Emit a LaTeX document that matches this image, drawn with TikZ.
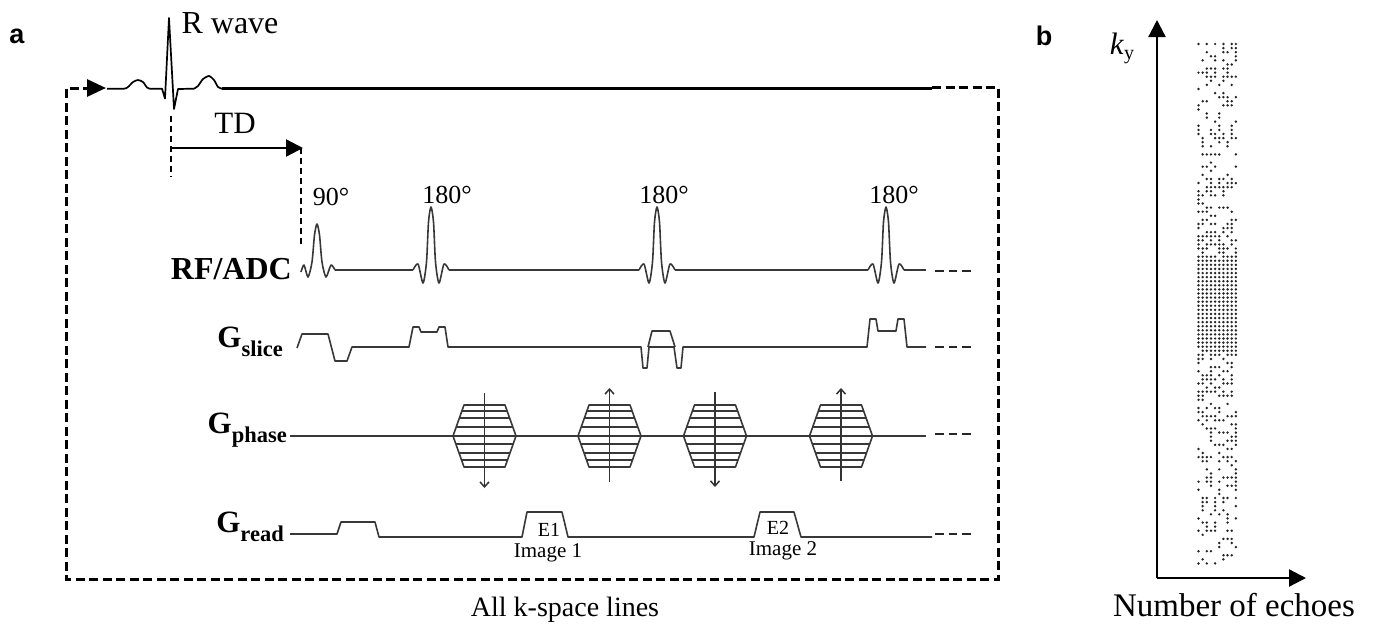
\documentclass[tikz,border=0pt]{standalone}
\usepackage{fontspec}
\setmainfont{Liberation Serif}
\newfontfamily\panelfont{Liberation Sans}
\usetikzlibrary{arrows.meta}

\newcommand{\fsz}[1]{\fontsize{#1}{#1}\selectfont}
\newcommand{\gradlabel}[1]{\fsz{31}\bfseries G\raisebox{-9pt}{\fsz{22.5}\bfseries #1}}

\tikzset{
  wave/.style={line width=1.6pt, color=black!78, line join=round},
  ecg/.style={line width=1.7pt, color=black, line join=round},
  loopline/.style={line width=3pt, dash pattern=on 9pt off 4.5pt},
  tailline/.style={line width=2pt, dash pattern=on 8.5pt off 5pt, color=black!85},
  delayline/.style={line width=2pt, dash pattern=on 6pt off 4pt},
  bigarrow/.style={line width=2.3pt, -{Triangle[length=17pt,width=17pt]}},
  smallarrow/.style={line width=1.5pt, color=black!80, -{Straight Barb[length=5pt,width=9pt]}},
  panel/.style={font=\panelfont\bfseries\fsz{27}},
  rowlabel/.style={anchor=base east, inner sep=0pt},
}

\begin{document}
\begin{tikzpicture}[x=1pt, y=-1pt]
    \useasboundingbox (0,0) rectangle (1373,627);

    % Panel letters
    \node[panel] (panel_a) at (17,36) {a};
    \node[panel] (panel_b) at (1044,36) {b};

    % ECG trace
    \draw[ecg] plot[smooth, tension=0.4] coordinates {(107,88.7) (124,88.7) (128,87) (133,82) (138,80) (143,82) (147,87.5) (150,88.7)};
    \draw[ecg] (150,88.7) -- (162,88.7) -- (165,98.5) -- (169,18) -- (174,109) -- (178,89) -- (194,88.7);
    \draw[ecg] plot[smooth, tension=0.4] coordinates {(194,88.7) (198,86) (203,79) (209,76) (214,80) (218,87) (222,88.7)};
    \draw[line width=2.8pt] (222,88.7) -- (932,88.7);
    \node[font=\fsz{32}] (r_wave) at (230,23) {R wave};

    % Repeat loop
    \coordinate (loop_start) at (932,87);
    \coordinate (loop_end) at (106,88);
    \draw[loopline, -{Triangle[length=19pt,width=17pt]}] (loop_start) -- (998,87) -- (998,579) -- (66,579) -- (66,88) -- (loop_end);
    \node[font=\fsz{28}] (all_lines) at (565,610) {All k-space lines};

    % Trigger delay
    \coordinate (td_start) at (171,148);
    \coordinate (td_end) at (303,148);
    \draw[delayline] (171,116) -- (171,177);
    \draw[delayline] (301,148) -- (301,246);
    \draw[bigarrow] (td_start) -- (td_end);
    \node[font=\fsz{31}] (td) at (235,123) {TD};

    % RF/ADC
    \node[rowlabel, font=\bfseries\fsz{32}] (rf) at (292,279) {RF/ADC};
    \draw[wave] plot[smooth, tension=0.45] coordinates {(301,272) (304,265) (308,277) (312,262) (314.5,235) (317,224) (319.5,235) (322,262) (326,277) (331,265) (335,270)};
    \foreach \c in {431,657,886} {
        \draw[wave] plot[smooth, tension=0.45] coordinates {({\c-18},270) ({\c-13},264) ({\c-8},283) ({\c-4.5},262) ({\c-2.5},222) (\c,207) ({\c+2.5},222) ({\c+4.5},262) ({\c+8},283) ({\c+13},264) ({\c+18},270)};
    }
    \draw[wave] (335,270) -- (413,270) (449,270) -- (639,270) (675,270) -- (868,270) (904,270) -- (926,270);
    \node[font=\fsz{26}] (flip_a) at (331,197) {90°};
    \node[font=\fsz{26}] (flip_b) at (447,195) {180°};
    \node[font=\fsz{26}] (flip_c) at (664,195) {180°};
    \node[font=\fsz{26}] (flip_d) at (894,195) {180°};

    % Gslice
    \node[rowlabel] (g_slice) at (283,347) {\gradlabel{slice}};
    \draw[wave] (297,348) -- (302,334) -- (328,334) -- (335,361) -- (347,361) -- (352,347) -- (409,347) -- (413,327) -- (419,327) -- (421,332) -- (437,332) -- (439,327) -- (445,327) -- (448,347) -- (641,347) -- (643,368) -- (647,368) -- (649,347) -- (674,347) -- (677,368) -- (681,368) -- (683,347) -- (867,347) -- (870,319) -- (876,319) -- (878,331) -- (896,331) -- (898,319) -- (904,319) -- (907,347) -- (926,347);
    \draw[wave] (648,347) -- (652,331) -- (670,331) -- (675,347);

    % Gphase
    \node[rowlabel] (g_phase) at (287,433) {\gradlabel{phase}};
    \draw[wave] (290,436) -- (926,436);
    \foreach \c in {484.5,609.5,715,841} {
        \draw[wave] ({\c-31.5},436) -- ({\c-20.5},405) -- ({\c+20.5},405) -- ({\c+31.5},436) -- ({\c+20.5},467) -- ({\c-20.5},467) -- cycle;
        \foreach \dy in {-25,-18,-9,8,17,24} {
            \draw[wave] ({\c-31.5+11*abs(\dy)/31},{436+\dy}) -- ({\c+31.5-11*abs(\dy)/31},{436+\dy});
        }
    }
    \draw[smallarrow] (484.5,393) -- (484.5,488);
    \draw[smallarrow] (609.5,482) -- (609.5,388);
    \draw[smallarrow] (715,392) -- (715,487);
    \draw[smallarrow] (841,481) -- (841,388);

    % Gread
    \node[rowlabel] (g_read) at (284,532) {\gradlabel{read}};
    \draw[wave] (290,534) -- (337,534) -- (341,522) -- (375,522) -- (379,537) -- (522,537) -- (527,512) -- (562,512) -- (568,537) -- (754,537) -- (760,512) -- (794,512) -- (801,537) -- (932,537);
    \node[font=\fsz{20}] (echo_a) at (549,530) {E1};
    \node[font=\fsz{20}] (echo_b) at (778,528) {E2};
    \node[font=\fsz{21}] (image_a) at (548,553) {Image 1};
    \node[font=\fsz{21}] (image_b) at (783,551) {Image 2};

    % Tail dashes
    \foreach \y in {271,347,434,534} {
        \draw[tailline] (935,\y) -- (974,\y);
    }

    % Axes of panel b
    \coordinate (origin) at (1157,578);
    \coordinate (ky_end) at (1157,20);
    \coordinate (echo_end) at (1306,578);
    \draw[bigarrow] (origin) -- (ky_end);
    \draw[bigarrow] (origin) -- (echo_end);
    \node[font=\fsz{31}] (ky) at (1122,48) {\textit{k}\raisebox{-5pt}{\fsz{20}y}};
    \node[font=\fsz{33}] (echoes) at (1234,605) {Number of echoes};

    % Sampling pattern: fully sampled centre
    \foreach \row in {53,...,74} {
        \foreach \col in {0,...,9} {
            \fill[black!85] ({1198.5+4.15*\col},{44+4.09*\row}) circle (1.35pt);
        }
    }
    % Sampling pattern: random outer rows
    \foreach \row/\cols in {
        0/{0,2,4,6,8,9},1/{6,8,9},2/{2,6,7,9},3/{3,4,9},4/{1,4,6,9},5/{7,8},6/{2,3,4,6,7},7/{0,1,2,4,7},8/{2,3,4,6,7,8,9},9/{3,6},
        10/{2,5,8},11/{0},12/{4,6},13/{5,6,7,9},14/{1,2,7,8},15/{0,6,7,8},16/{0},17/{2,5},18/{2,5},19/{4,9},
        20/{0,5,8},21/{0,3,5,8},22/{0,3,4,6,8},23/{1,4,5,6,8,9},24/{1,5,7},25/{1,3,7},27/{1,2,3,4,5,9},29/{3},
        30/{1,2,4,9},31/{3},32/{1,7},33/{2,3,5,6,8},34/{0,3,5,7,8,9},35/{2,3,4,5,6,7,8},36/{0,2,3,6},37/{0,1,3,4,6},38/{0},39/{0,1},
        40/{2,3,5,6,7},41/{0,1,2,8},42/{3,4},43/{1,2,8,9},44/{0,1,3,4,7,8},45/{0,6,7,8},46/{2,3,4,6,8},47/{0,1,2,3,4,5,7},48/{0,1,3,5,8,9},49/{0,2,3,4,5,6,8},
        50/{0,1,2,5,6,7,9},51/{1,5,6,9},52/{0,1,2,3,4,6,7,8,9},75/{1,2,3,4,5,6,7,8,9},76/{0,1,3,4,5,7,8,9},77/{0,1,3,6},78/{0,7,8},79/{3,4,5,8},
        80/{0,3,6,7},81/{1,2,3,5,8},82/{1,2,3,4,6,8},83/{0,1,3,6,7,8},84/{2,4,5},85/{0,1,2,3,4,6,8},86/{0,1,5,6,7,8},87/{0,1},88/{3,7},89/{0,2,4,5},
        90/{0,1,5,9},91/{1,2,3,4,7,8,9},92/{0,2,4,5,6},93/{1,8,9},94/{2,3,4,9},95/{3,5,6,7,9},96/{3,8,9},97/{3,7,8,9},98/{4,5,6,9},99/{0,7,8},
        100/{1,5},101/{0,1,2,3,6,7,8},102/{1,2,5,7,9},103/{8},104/{2,5,9},105/{3,9},106/{2,3,6,7,8,9},107/{0,2,3,5,9},108/{3,7,8,9},109/{0,5,9},
        110/{5},111/{1,2,4,6,7,9},112/{1,2,4,6},113/{1,4,9},114/{1,4,6},115/{3,5,7},116/{0,7,9},117/{1,2,4,7},118/{2,4},119/{0,2,3,4,7,8},
        120/{1},121/{6,7,8},122/{5,8},123/{5,9},124/{0,2,3},125/{6,7,8},126/{1,6},127/{0,2,4}} {
        \foreach \col in \cols {
            \fill[black!85] ({1198.5+4.15*\col},{44+4.09*\row}) circle (1.35pt);
        }
    }

\end{tikzpicture}
\end{document}
